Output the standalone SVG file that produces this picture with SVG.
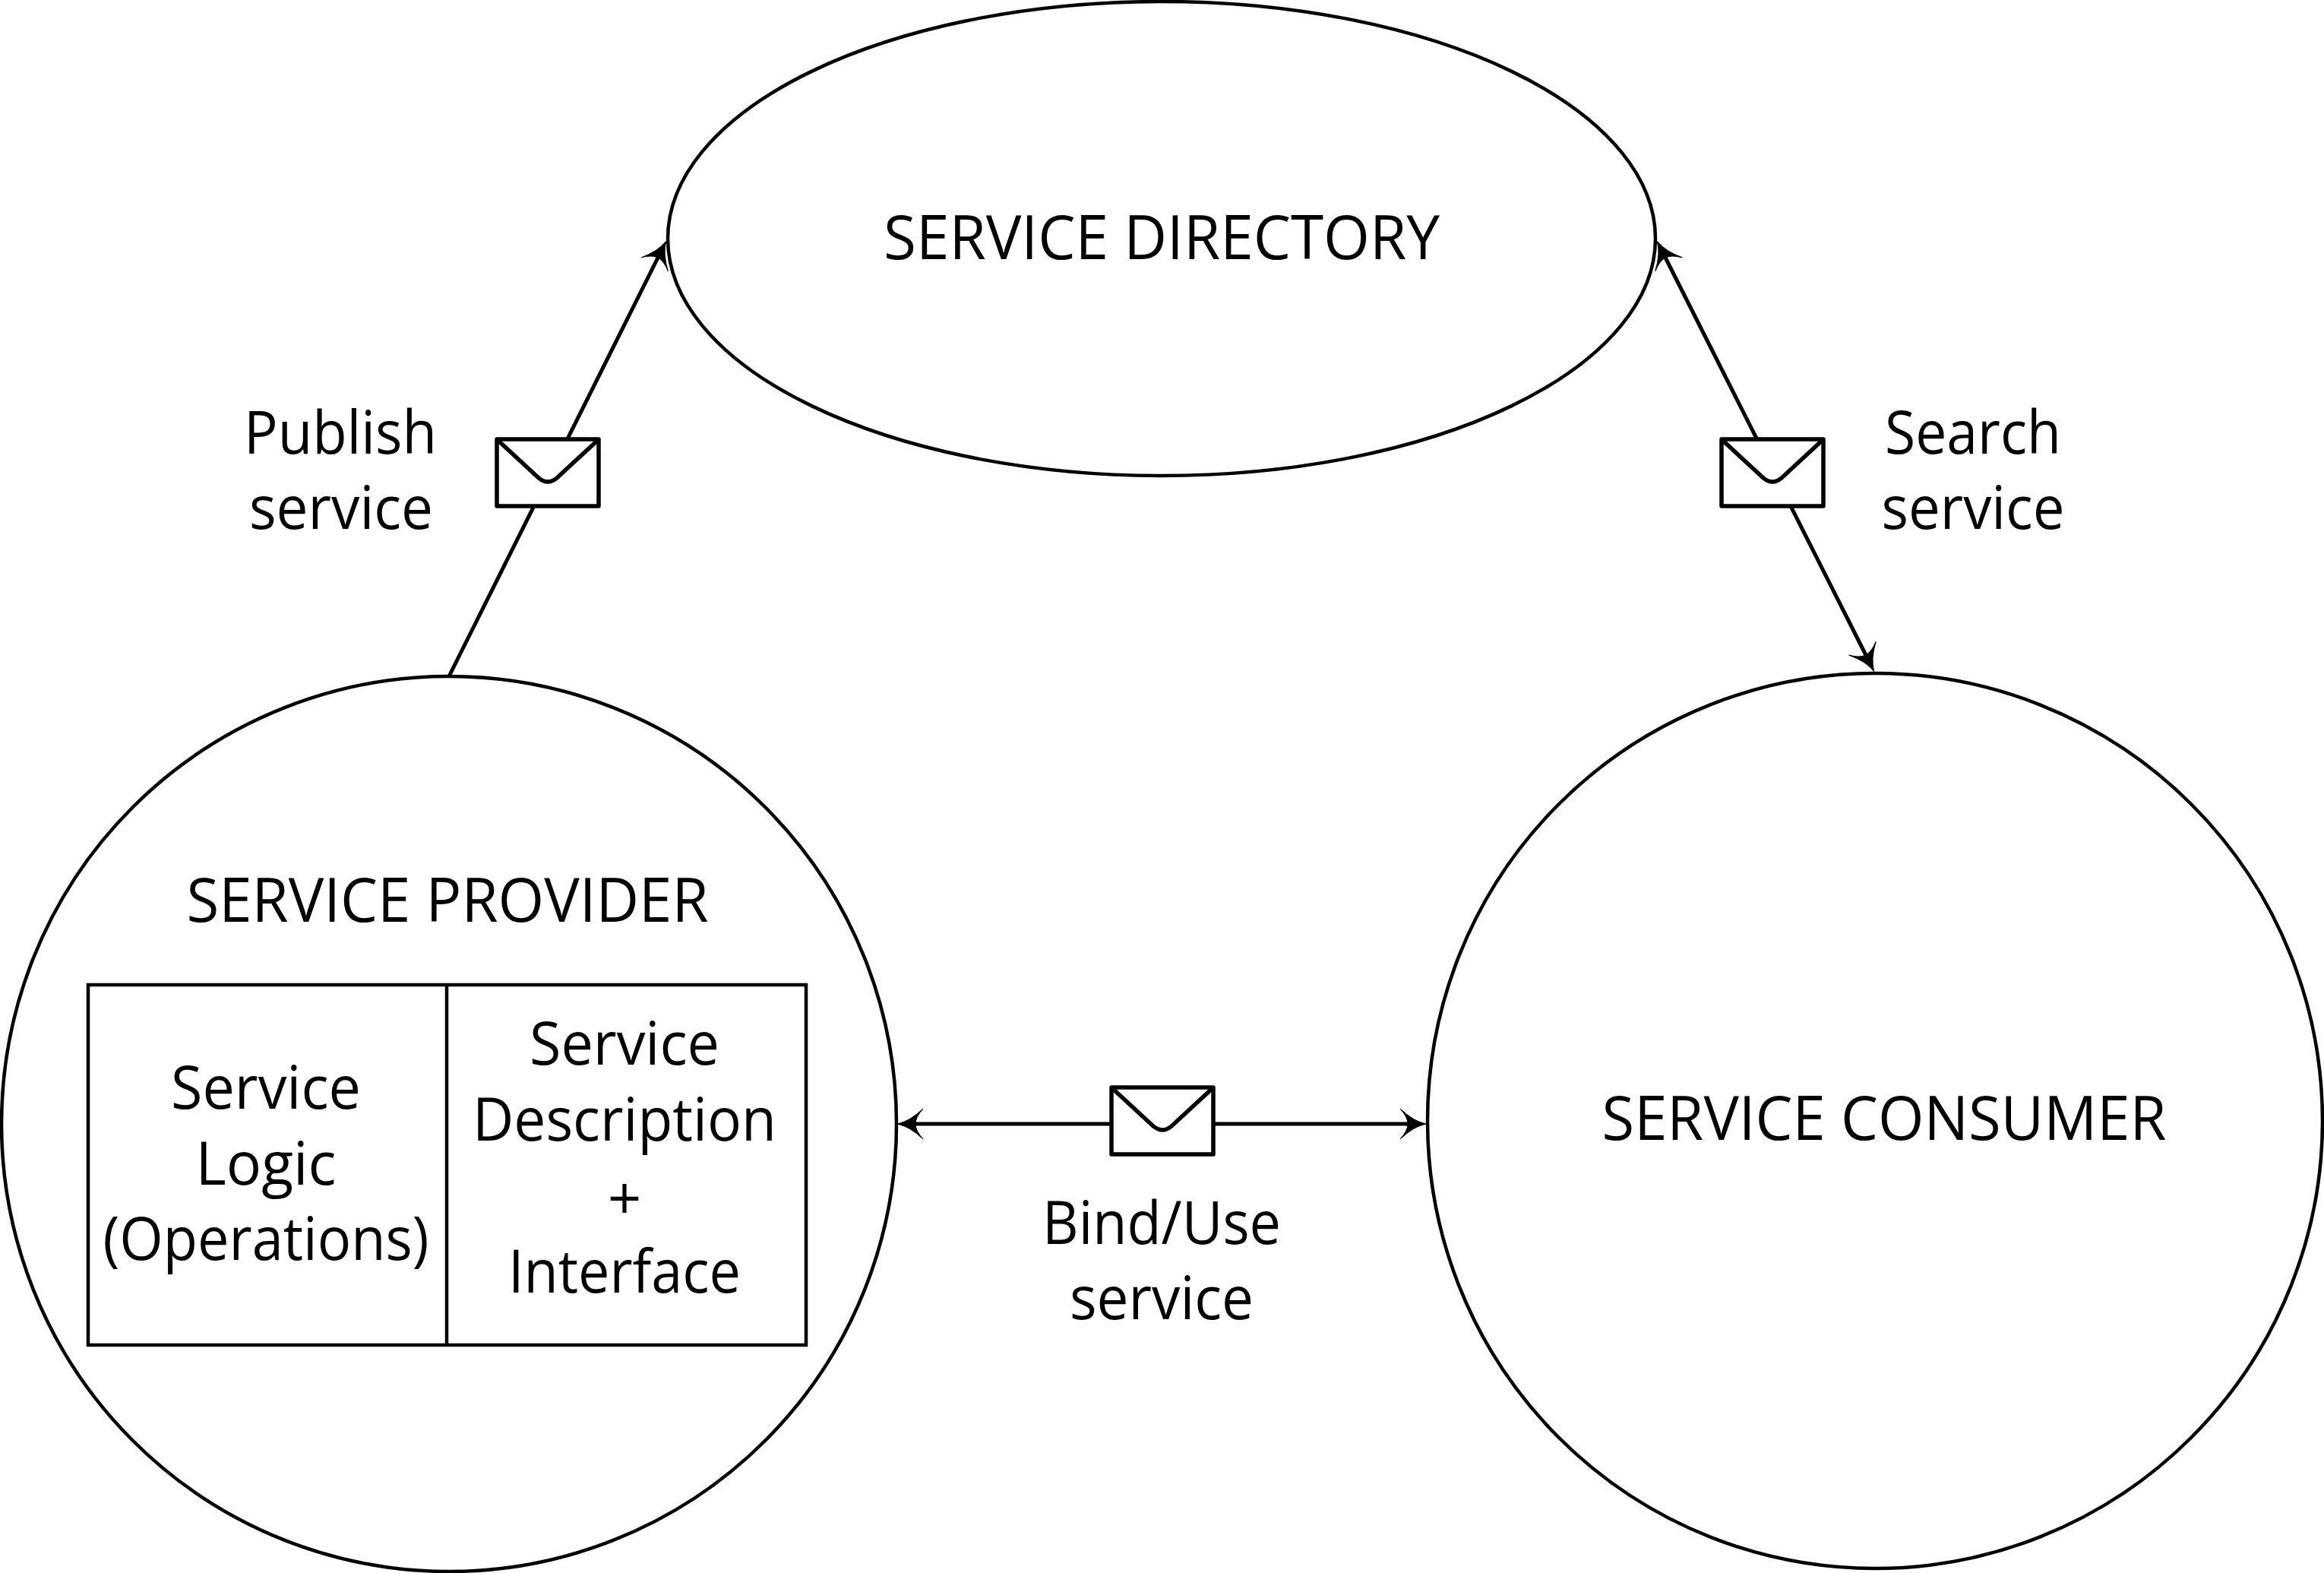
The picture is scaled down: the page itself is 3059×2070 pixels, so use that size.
<svg xmlns="http://www.w3.org/2000/svg" width="3059" height="2070" viewBox="0 0 3059 2070">
<style>
.s{fill:none;stroke:#000;stroke-width:4.5}
.c{stroke:#000;stroke-width:5;fill:none}
.e{fill:#fff;stroke:#000;stroke-width:5.5;stroke-linejoin:round}
.f{fill:none;stroke:#000;stroke-width:5.5}
text{font-family:"Open Sans","Noto Sans","Liberation Sans",sans-serif;font-size:78px;fill:#000;text-anchor:middle}
.u{font-size:80px}
</style>
<defs>
<marker id="h" markerUnits="userSpaceOnUse" markerWidth="38" markerHeight="44" refX="30" refY="21" orient="auto-start-reverse" viewBox="0 0 38 42">
<path d="M36 21Q20 18 2 1Q12 12 12 21Q12 30 2 41Q20 24 36 21Z" fill="#000" stroke="#000" stroke-width="1"/>
</marker>
<g id="env"><rect class="e" width="134" height="88"/><path class="f" d="M2 2L55 51Q67 61 79 51L132 2"/></g>
</defs>
<rect width="3059" height="2070" fill="#fff"/>
<g id="connectors">
<line class="c" x1="591" y1="890" x2="874" y2="323" marker-end="url(#h)"/>
<line class="c" x1="2184" y1="323" x2="2464" y2="878" marker-start="url(#h)" marker-end="url(#h)"/>
<line class="c" x1="1187" y1="1479" x2="1871" y2="1479" marker-start="url(#h)" marker-end="url(#h)"/>
</g>
<g id="directory"><ellipse class="s" cx="1529" cy="314" rx="650" ry="312"/>
<text class="u" x="1529" y="341" textLength="732" lengthAdjust="spacingAndGlyphs">SERVICE DIRECTORY</text></g>
<g id="provider"><circle class="s" cx="591" cy="1479" r="589"/>
<text class="u" x="589" y="1213" textLength="687" lengthAdjust="spacingAndGlyphs">SERVICE PROVIDER</text></g>
<g id="interface-box"><rect class="s" x="116" y="1296" width="945" height="474"/><line class="s" x1="588" y1="1296" x2="588" y2="1770"/></g>
<g id="logic">
<text x="350" y="1459" textLength="250" lengthAdjust="spacingAndGlyphs">Service</text>
<text x="350" y="1559" textLength="185" lengthAdjust="spacingAndGlyphs">Logic</text>
<text x="350" y="1658" textLength="429" lengthAdjust="spacingAndGlyphs">(Operations)</text></g>
<g id="description">
<text x="822" y="1401" textLength="250" lengthAdjust="spacingAndGlyphs">Service</text>
<text x="822" y="1501" textLength="400" lengthAdjust="spacingAndGlyphs">Description</text>
<text x="822" y="1605">+</text>
<text x="822" y="1701" textLength="306" lengthAdjust="spacingAndGlyphs">Interface</text></g>
<g id="consumer"><circle class="s" cx="2468" cy="1475" r="589"/>
<text class="u" x="2480" y="1500" textLength="743" lengthAdjust="spacingAndGlyphs">SERVICE CONSUMER</text></g>
<g id="publish"><use href="#env" x="654" y="578"/>
<text x="448" y="597" textLength="254" lengthAdjust="spacingAndGlyphs">Publish</text>
<text x="449" y="696" textLength="242" lengthAdjust="spacingAndGlyphs">service</text></g>
<g id="search"><use href="#env" x="2266" y="578"/>
<text x="2597" y="597" textLength="232" lengthAdjust="spacingAndGlyphs">Search</text>
<text x="2597" y="696" textLength="241" lengthAdjust="spacingAndGlyphs">service</text></g>
<g id="bind"><use href="#env" x="1463" y="1431"/>
<text x="1529" y="1637" textLength="314" lengthAdjust="spacingAndGlyphs">Bind/Use</text>
<text x="1529" y="1736" textLength="242" lengthAdjust="spacingAndGlyphs">service</text></g>
</svg>
